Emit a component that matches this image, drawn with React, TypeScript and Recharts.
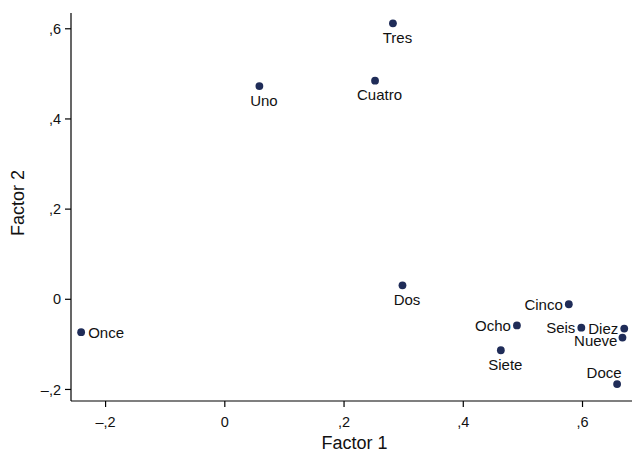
import React from 'react';
import { ScatterChart, Scatter, XAxis, YAxis } from 'recharts';

const names = ['Uno', 'Dos', 'Tres', 'Cuatro', 'Cinco', 'Seis', 'Siete', 'Ocho', 'Nueve', 'Diez', 'Once', 'Doce'];
const factor1 = [0.058, 0.298, 0.282, 0.252, 0.577, 0.598, 0.463, 0.49, 0.667, 0.67, -0.241, 0.658];
const factor2 = [0.473, 0.031, 0.612, 0.485, -0.011, -0.063, -0.113, -0.058, -0.085, -0.065, -0.073, -0.188];
// Stata-style clock position of each marker label
const labelClock = [6, 6, 6, 6, 9, 9, 6, 9, 8, 9, 3, 12];

const xTicks = [-0.2, 0, 0.2, 0.4, 0.6];
const xTickLabels = ['–,2', '0', ',2', ',4', ',6'];
const yTicks = [-0.2, 0, 0.2, 0.4, 0.6];
const yTickLabels = ['–,2', '0', ',2', ',4', ',6'];

const xTitle = 'Factor 1';
const yTitle = 'Factor 2';

const data = names.map((name, i) => ({ name, x: factor1[i], y: factor2[i], clock: labelClock[i] }));

const FONT = '"Liberation Sans", Arial, Helvetica, sans-serif';
const DOT = '#1f2c58';

const PointShape = (props: any) => {
  const { cx, cy, payload } = props;
  if (cx == null || cy == null) return null;
  let tx = cx;
  let ty = cy;
  let anchor: 'start' | 'middle' | 'end' = 'middle';
  if (payload.clock === 6) {
    tx = cx + 4.5;
    ty = cy + 19.5;
  } else if (payload.clock === 9) {
    tx = cx - 6;
    ty = cy + 5.5;
    anchor = 'end';
  } else if (payload.clock === 8) {
    tx = cx - 5;
    ty = cy + 8.5;
    anchor = 'end';
  } else if (payload.clock === 3) {
    tx = cx + 7;
    ty = cy + 5.5;
    anchor = 'start';
  } else if (payload.clock === 12) {
    tx = cx - 13;
    ty = cy - 6;
  }
  return (
    <g>
      <circle cx={cx} cy={cy} r={3.9} fill={DOT} />
      <text x={tx} y={ty} textAnchor={anchor} fontFamily={FONT} fontSize={15} fill="#111">
        {payload.name}
      </text>
    </g>
  );
};

const XTitle = (props: any) => {
  const vb = props.viewBox || {};
  const cx = (vb.x ?? 71) + (vb.width ?? 561) / 2 + 3;
  return (
    <text x={cx} y={449} textAnchor="middle" fontFamily={FONT} fontSize={18} fill="#111">
      {xTitle}
    </text>
  );
};

const YTitle = (props: any) => {
  const vb = props.viewBox || {};
  const cy = (vb.y ?? 13) + (vb.height ?? 388) / 2 - 4;
  return (
    <text
      x={18}
      y={cy}
      transform={`rotate(-90, 18, ${cy})`}
      textAnchor="middle"
      dominantBaseline="central"
      fontFamily={FONT}
      fontSize={18}
      fill="#111"
    >
      {yTitle}
    </text>
  );
};

export default function App() {
  return (
    <div style={{ position: 'absolute', left: 0, top: 0, width: 632, height: 454, background: '#fff' }}>
      <ScatterChart width={632} height={454} margin={{ top: 13, right: 0, bottom: 0, left: 0 }}>
        <XAxis
          type="number"
          dataKey="x"
          domain={[-0.258, 0.683]}
          allowDataOverflow
          ticks={xTicks}
          tickFormatter={(v: number) => xTickLabels[xTicks.indexOf(v)] ?? String(v)}
          height={53}
          tickSize={6}
          tickMargin={10}
          stroke="#000"
          axisLine={{ stroke: '#000', strokeWidth: 1.2 }}
          tickLine={{ stroke: '#000', strokeWidth: 1.2 }}
          tick={{ fill: '#111', fontSize: 14.5, fontFamily: FONT }}
          label={<XTitle />}
        />
        <YAxis
          type="number"
          dataKey="y"
          domain={[-0.2256, 0.635]}
          allowDataOverflow
          ticks={yTicks}
          tickFormatter={(v: number) => yTickLabels[yTicks.indexOf(v)] ?? String(v)}
          width={71}
          tickSize={6}
          tickMargin={4}
          stroke="#000"
          axisLine={{ stroke: '#000', strokeWidth: 1.2 }}
          tickLine={{ stroke: '#000', strokeWidth: 1.2 }}
          tick={{ fill: '#111', fontSize: 14.5, fontFamily: FONT }}
          label={<YTitle />}
        />
        <Scatter data={data} shape={PointShape} isAnimationActive={false} />
      </ScatterChart>
    </div>
  );
}
